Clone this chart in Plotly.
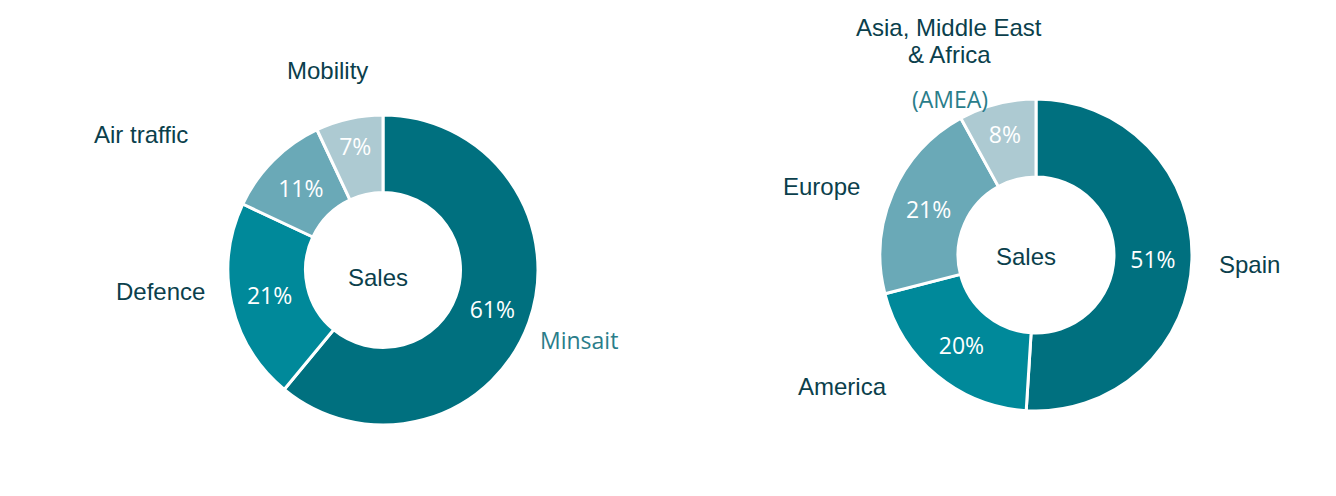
import plotly.graph_objects as go

W, H = 1336, 496
OFF = 8  # page body margin

seg_left = ["Minsait", "Defence", "Air traffic", "Mobility"]
val_left = [61, 21, 11, 7]
seg_right = ["Spain", "America", "Europe", "Asia, Middle East & Africa (AMEA)"]
val_right = [51, 20, 21, 8]
colors = ["#00707F", "#00899A", "#6AA9B7", "#ADCAD2"]
center_label = "Sales"

DARK = "#0B3F4C"
TEAL = "#2A7D8A"
PCT_FONT = "Open Sans"
LBL_FONT = "Liberation Sans, Arial, sans-serif"


def px(x):
    return (x - OFF) / W


def py(y):
    return 1 - (y - OFF) / H


def dom(cx, cy, r):
    return dict(x=[px(cx - r), px(cx + r)], y=[py(cy + r), py(cy - r)])


fig = go.Figure()
for labels, values, d in [(seg_left, val_left, dom(383, 270, 155)),
                          (seg_right, val_right, dom(1036, 255, 156))]:
    fig.add_trace(go.Pie(
        labels=labels, values=values, sort=False, direction="clockwise",
        rotation=0, hole=0.5, domain=d,
        marker=dict(colors=colors, line=dict(color="white", width=3)),
        texttemplate="%{value}%", textposition="inside",
        insidetextorientation="horizontal",
        textfont=dict(family=PCT_FONT, size=23, color="white"),
        showlegend=False, hoverinfo="label+value",
    ))


def ann(text, x, y, color=DARK, family=LBL_FONT, size=24):
    fig.add_annotation(text=text, x=px(x), y=py(y), xref="paper", yref="paper",
                       showarrow=False, xanchor="center", yanchor="middle",
                       font=dict(family=family, size=size, color=color))


ann(center_label, 378, 277)
ann(center_label, 1026, 256)
ann("Mobility", 327, 70)
ann("Air traffic", 141, 134)
ann("Defence", 160, 291)
ann("Minsait", 579, 340, color=TEAL, family=PCT_FONT, size=23)
ann("Asia, Middle East", 949, 27)
ann("& Africa", 949, 55)
ann("(AMEA)", 950, 99, color=TEAL, family=PCT_FONT, size=23)
ann("Europe", 822, 187)
ann("Spain", 1249, 264)
ann("America", 842, 386)

fig.update_layout(width=W, height=H, margin=dict(l=0, r=0, t=0, b=0),
                  paper_bgcolor="white", plot_bgcolor="white")
fig.write_html("out.html")
